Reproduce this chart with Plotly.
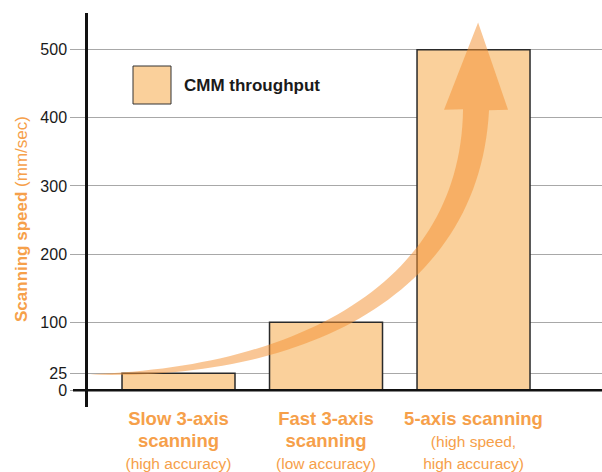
import numpy as np
import plotly.graph_objects as go

# ---- data ----
categories = ["Slow 3-axis scanning", "Fast 3-axis scanning", "5-axis scanning"]
main_labels = [["Slow 3-axis", "scanning"], ["Fast 3-axis", "scanning"], ["5-axis scanning"]]
sub_labels = [["(high accuracy)"], ["(low accuracy)"], ["(high speed,", "high accuracy)"]]
speeds = [25, 100, 500]
y_ticks = [0, 25, 100, 200, 300, 400, 500]
series_name = "CMM throughput"

# ---- layout geometry ----
W, H = 602, 472
ML, MR, MT, MB = 88, 0, 13, 65
PW, PH = W - ML - MR, H - MT - MB
XR = [-0.6136, 2.871]
YR = [-24.5, 554]

ORANGE = "#F6A04A"
BAR = "#FAD09B"
FONT = "Liberation Sans, Arial, Helvetica, sans-serif"

def px2data(px, py):
    xd = XR[0] + (px - ML) / PW * (XR[1] - XR[0])
    yd = YR[1] - (py - MT) / PH * (YR[1] - YR[0])
    return xd, yd

def data2px(xd, yd):
    px = ML + (xd - XR[0]) / (XR[1] - XR[0]) * PW
    py = MT + (YR[1] - yd) / (YR[1] - YR[0]) * PH
    return px, py

# ---- decorative curved arrow (built in pixel space, converted to data) ----
P0 = np.array(data2px(-0.6, 23.5))
P1 = np.array(data2px(0.824, 23.5))
P2 = np.array(data2px(1.976, 147))
P3 = np.array(data2px(2.017, 412))
TIP = np.array(data2px(2.031, 540))
HEAD_HALF = 32
SHAFT_W = 26

ts = np.linspace(0, 1, 60)
upper, lower = [], []
for t in ts:
    b = (1-t)**3*P0 + 3*(1-t)**2*t*P1 + 3*(1-t)*t**2*P2 + t**3*P3
    d = 3*(1-t)**2*(P1-P0) + 6*(1-t)*t*(P2-P1) + 3*t**2*(P3-P2)
    d = d / np.linalg.norm(d)
    n = np.array([d[1], -d[0]])
    w = SHAFT_W * t**0.8
    upper.append(b + n*w/2)
    lower.append(b - n*w/2)
end = P3
poly = upper + [np.array([end[0]-HEAD_HALF, end[1]]), TIP, np.array([end[0]+HEAD_HALF, end[1]])] + lower[::-1]
path = ""
for i, p in enumerate(poly):
    xd, yd = px2data(p[0], p[1])
    path += ("M" if i == 0 else "L") + f"{xd:.5f},{yd:.3f} "
path += "Z"

def make_label(main, sub):
    lines = [f"<span style='font-size:18.5px'><b>{m}</b></span>" for m in main]
    lines += [f"<span style='font-size:15.5px'>{s}</span>" for s in sub]
    return "<br>".join(lines)

ticktext = [make_label(m, s) for m, s in zip(main_labels, sub_labels)]

fig = go.Figure()
fig.add_trace(go.Bar(
    x=list(range(len(categories))), y=speeds, name=series_name,
    width=0.766, marker=dict(color=BAR, line=dict(color="#2a2a2a", width=1.5)),
    showlegend=False, hoverinfo="skip"))

shapes = [
    dict(type="path", path=path, xref="x", yref="y", fillcolor="rgba(244,146,52,0.52)",
         line=dict(width=0), layer="above"),
    dict(type="line", xref="paper", yref="y", x0=-15/PW, x1=1, y0=0, y1=0,
         line=dict(color="#111111", width=2.5), layer="above"),
    dict(type="rect", xref="paper", yref="paper",
         x0=(133-ML)/PW, x1=(171-ML)/PW, y0=(H-MB-104)/PH, y1=(H-MB-66)/PH,
         fillcolor=BAR, line=dict(color="#333333", width=1)),
]

annotations = [
    dict(text="<b>" + series_name + "</b>", xref="paper", yref="paper",
         x=(182-ML)/PW, y=(H-MB-86)/PH, xanchor="left", yanchor="middle",
         showarrow=False, font=dict(size=17, color="#1a1a1a", family=FONT)),
    dict(text="<b>Scanning speed</b> (mm/sec)", xref="paper", yref="paper",
         x=(21-ML)/PW, y=(H-MB-219)/PH, xanchor="center", yanchor="middle",
         textangle=-90, showarrow=False, font=dict(size=17, color=ORANGE, family=FONT)),
]

fig.update_layout(
    width=W, height=H, margin=dict(l=ML, r=MR, t=MT, b=MB, autoexpand=False),
    paper_bgcolor="white", plot_bgcolor="white",
    font=dict(family=FONT),
    shapes=shapes, annotations=annotations, showlegend=False,
    xaxis=dict(range=XR, tickmode="array", tickvals=list(range(len(categories))),
               ticktext=ticktext, showgrid=False, zeroline=False, showline=False,
               ticks="", ticklabelstandoff=0, automargin=False,
               tickfont=dict(size=17, color=ORANGE, family=FONT)),
    yaxis=dict(range=YR, tickmode="array", tickvals=y_ticks, ticktext=[str(v) for v in y_ticks],
               showgrid=True, gridcolor="#a8a8a8", gridwidth=1, zeroline=False,
               showline=True, linecolor="#111111", linewidth=2.5, automargin=False,
               ticks="outside", ticklen=15, tickcolor="#a8a8a8", tickwidth=1,
               tickfont=dict(size=16, color="#1a1a1a", family=FONT)),
)

fig.write_html("out.html", config={"displayModeBar": False},
               post_script="document.body.style.margin='0';document.body.style.overflow='hidden';")
